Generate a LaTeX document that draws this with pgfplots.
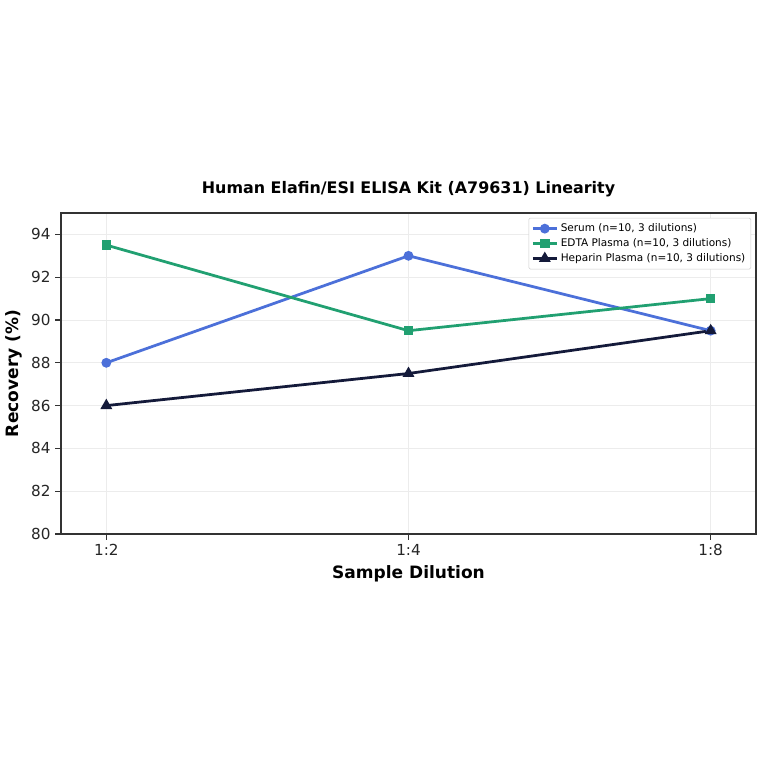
\documentclass[border=0pt]{standalone}
\usepackage{fontspec}
\setmainfont{DejaVu Sans}
\usepackage{pgfplots}
\pgfplotsset{compat=1.18}

\definecolor{serum}{HTML}{4C70D9}
\definecolor{edta}{HTML}{21A071}
\definecolor{hep}{HTML}{141A3A}

\begin{document}
\begin{tikzpicture}
\useasboundingbox (-0.61in,-2.30in) rectangle (7.03in,5.34in);
\begin{axis}[
    at={(0,0)}, anchor=south west,
    scale only axis,
    width=6.95in, height=3.21in,
    xmin=-0.15, xmax=2.15,
    ymin=80, ymax=95,
    xtick={0,1,2},
    xticklabels={1:2, 1:4, 1:8},
    ytick={80,82,...,94},
    /pgf/number format/assume math mode=true,
    tick label style={font=\fontsize{11}{13}\selectfont, text=black!85},
    grid=major,
    major grid style={gray!15, line width=0.5pt},
    axis line style={black!80, line width=0.8pt},
    tick style={black!80, line width=0.8pt},
    tick align=outside,
    major tick length=4pt,
    xtick pos=bottom, ytick pos=left,
    title={\textbf{Human Elafin/ESI ELISA Kit (A79631) Linearity}},
    title style={font=\fontsize{11.5}{13}\selectfont, yshift=2pt},
    xlabel={\textbf{Sample Dilution}},
    ylabel={\textbf{Recovery (\%)}},
    label style={font=\fontsize{12.3}{14}\selectfont},
    legend pos=north east,
    legend style={font=\fontsize{7.6}{9.5}\selectfont, draw=black!20, rounded corners=1pt,
        row sep=-0.5pt, inner sep=2pt, at={(0.993,0.985)}},
    legend cell align=left,
]
\addplot[serum, line width=2pt, mark=*, mark size=2.5pt] coordinates {(0,88) (1,93) (2,89.5)};
\addlegendentry{Serum (n=10, 3 dilutions)}
\addplot[edta, line width=2pt, mark=square*, mark size=2.4pt] coordinates {(0,93.5) (1,89.5) (2,91)};
\addlegendentry{EDTA Plasma (n=10, 3 dilutions)}
\addplot[hep, line width=2pt, mark=triangle*, mark size=3pt] coordinates {(0,86) (1,87.5) (2,89.5)};
\addlegendentry{Heparin Plasma (n=10, 3 dilutions)}
\end{axis}
\end{tikzpicture}
\end{document}
